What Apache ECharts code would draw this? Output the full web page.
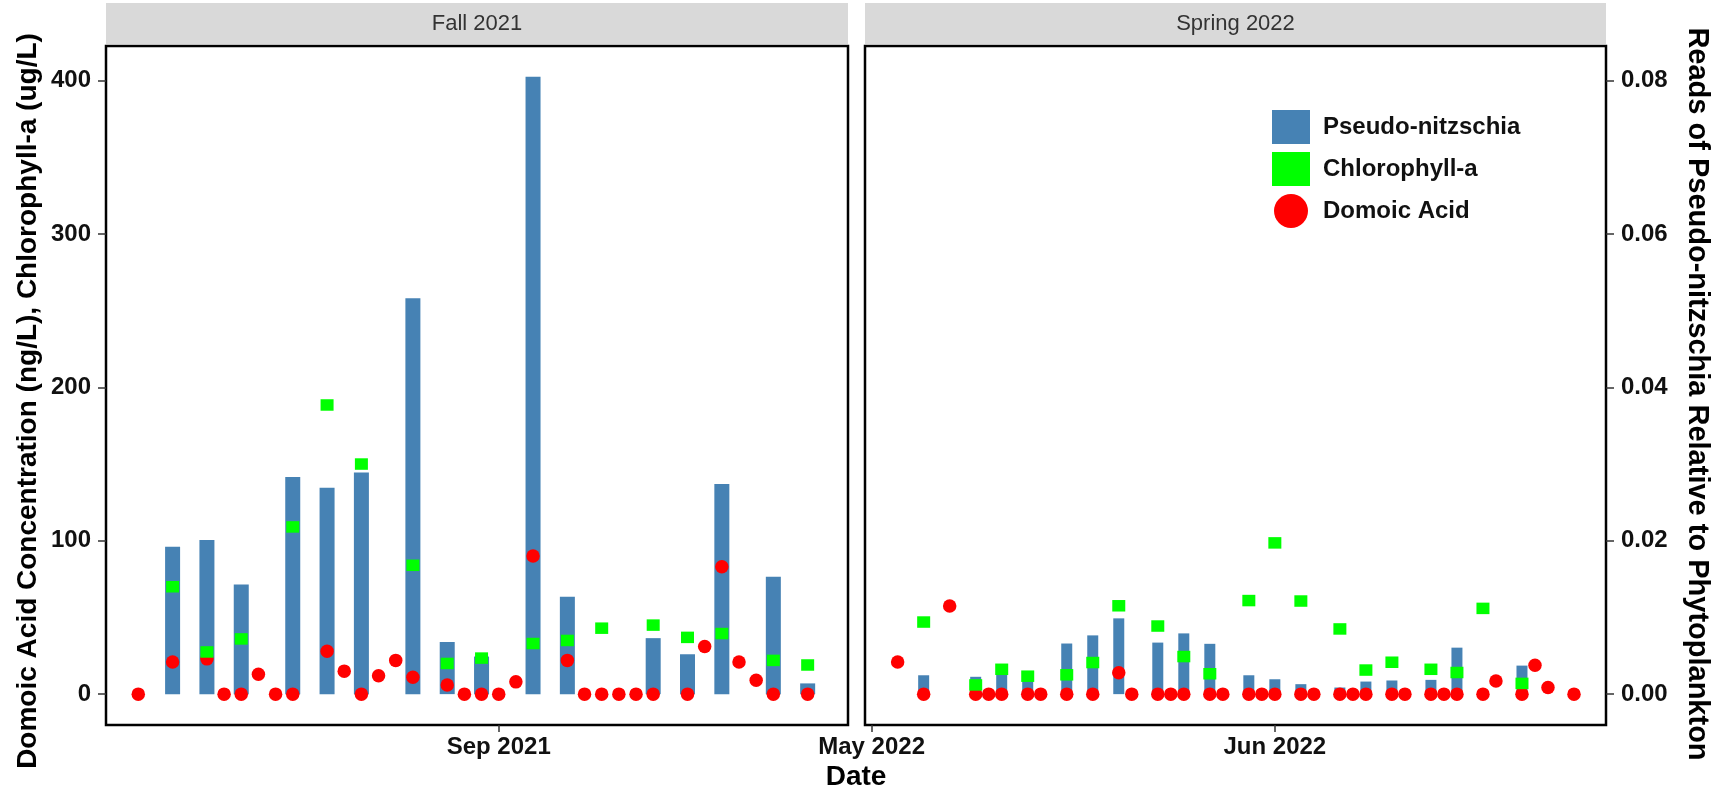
<!DOCTYPE html>
<html>
<head>
<meta charset="utf-8">
<script src="https://cdn.jsdelivr.net/npm/echarts@6/dist/echarts.min.js"></script>
<style>
  html, body { margin: 0; padding: 0; background: #fff; }
  #chart { width: 1722px; height: 792px; }
</style>
</head>
<body>
<div id="chart"></div>
<script>
// Fall 2021 sampling dates
var fallDates = ['2021-08-11','2021-08-13','2021-08-15','2021-08-16','2021-08-17','2021-08-18','2021-08-19','2021-08-20',
  '2021-08-22','2021-08-23','2021-08-24','2021-08-25','2021-08-26','2021-08-27','2021-08-29','2021-08-30','2021-08-31',
  '2021-09-01','2021-09-02','2021-09-03','2021-09-05','2021-09-06','2021-09-07','2021-09-08','2021-09-09','2021-09-10',
  '2021-09-12','2021-09-13','2021-09-14','2021-09-15','2021-09-16','2021-09-17','2021-09-19'];
// domoic acid (ng/L)
var fallDomoic = [0, 21, 23, 0, 0, 13, 0, 0, 28, 15, 0, 12, 22, 11, 6, 0, 0, 0, 8, 90, 22, 0, 0, 0, 0, 0, 0, 31, 83, 21, 9, 0, 0];
// chlorophyll-a (ug/L)
var fallChl = [null, 70, 27.5, null, 36, null, null, 109, 188.5, null, 150, null, null, 84, 20, null, 23.5, null, null,
  33, 35, null, 43, null, null, 45, 37, null, 39.5, null, null, 22, 19];
// reads of pseudo-nitzschia relative to phytoplankton
var fallPseudo = [null, 0.0192, 0.0201, null, 0.0143, null, null, 0.0283, 0.0269, null, 0.0289, null, null, 0.0516, 0.0068,
  null, 0.0049, null, null, 0.0805, 0.0127, null, null, null, null, 0.0073, 0.0052, null, 0.0274, null, null, 0.0153, 0.0014];

// Spring 2022
var springDates = ['2022-05-03','2022-05-05','2022-05-07','2022-05-09','2022-05-10','2022-05-11','2022-05-13','2022-05-14',
  '2022-05-16','2022-05-18','2022-05-20','2022-05-21','2022-05-23','2022-05-24','2022-05-25','2022-05-27','2022-05-28',
  '2022-05-30','2022-05-31','2022-06-01','2022-06-03','2022-06-04','2022-06-06','2022-06-07','2022-06-08','2022-06-10',
  '2022-06-11','2022-06-13','2022-06-14','2022-06-15','2022-06-17','2022-06-18','2022-06-20','2022-06-21','2022-06-22','2022-06-24'];
var springDomoic = [21, 0, 57.5, 0, 0, 0, 0, 0, 0, 0, 14, 0, 0, 0, 0, 0, 0, 0, 0, 0, 0, 0, 0, 0, 0, 0, 0, 0, 0, 0, 0, 8.5, 0, 18.8, 4.3, 0];
var springChl = [null, 47, null, 6, null, 16.2, 11.7, null, 12.6, 20.6, 57.6, null, 44.4, null, 24.5, 13.3, null, 61, null,
  98.6, 60.7, null, 42.5, null, 15.7, 20.8, null, 16.2, null, 14.1, 55.9, null, 7, null, null, null];
var springPseudo = [null, 0.00246, null, 0.00226, null, 0.0028, 0.0018, null, 0.0066, 0.00766, 0.00988, null, 0.00672, null,
  0.00792, 0.00656, null, 0.00246, null, 0.00194, 0.0013, null, 0.00086, null, 0.00164, 0.00178, null, 0.00186, null,
  0.00606, null, null, 0.00372, null, null, null];

var leftTicks = [0, 100, 200, 300, 400];
var rightTicks = [0, 0.02, 0.04, 0.06, 0.08];
var fallLabelDates = ['2021-09-01'];
var springLabelDates = ['2022-05-01', '2022-06-01'];

var RATIO = 5000; // secondary axis scale
var DAY = 86400000;
var FONT = '"Liberation Sans", Arial, sans-serif';
var months = ['Jan','Feb','Mar','Apr','May','Jun','Jul','Aug','Sep','Oct','Nov','Dec'];

function ts(s) {
  var p = s.split('-');
  return Date.UTC(+p[0], +p[1] - 1, +p[2]);
}
function pairs(dates, vals) {
  var out = [];
  dates.forEach(function(d, i) {
    if (vals[i] !== null) out.push([ts(d), vals[i]]);
  });
  return out;
}
function monthLabel(v) {
  var d = new Date(v);
  return months[d.getUTCMonth()] + ' ' + d.getUTCFullYear();
}

var yMin = -20.12, yMax = 422.52;

var chart = echarts.init(document.getElementById('chart'));

// dates are plotted on a numeric axis (ms) so tick positions can be fixed
function xAxisFor(grid, min, max, labels) {
  var vals = labels.map(ts);
  return {
    type: 'value',
    gridIndex: grid,
    min: min,
    max: max,
    axisLine: { show: false, onZero: false },
    splitLine: { show: false },
    axisTick: { show: true, customValues: vals, length: 7, lineStyle: { color: '#333', width: 1.5 } },
    axisLabel: {
      customValues: vals,
      formatter: monthLabel,
      color: '#111',
      fontSize: 24,
      fontWeight: 'bold',
      margin: 10
    }
  };
}

var option = {
  backgroundColor: '#fff',
  textStyle: { fontFamily: FONT },
  animation: false,
  grid: [
    { left: 106, top: 46, width: 742, height: 679, show: true, borderColor: '#000', borderWidth: 2.5, backgroundColor: '#fff' },
    { left: 865, top: 46, width: 741, height: 679, show: true, borderColor: '#000', borderWidth: 2.5, backgroundColor: '#fff' }
  ],
  legend: {
    orient: 'vertical',
    left: 1267,
    top: 105,
    itemWidth: 38,
    itemHeight: 34,
    itemGap: 8,
    textStyle: { fontSize: 24, fontWeight: 'bold', color: '#111', padding: [0, 0, 0, 8] },
    data: [
      { name: 'Pseudo-nitzschia', icon: 'rect' },
      { name: 'Chlorophyll-a', icon: 'rect' },
      { name: 'Domoic Acid', icon: 'circle' }
    ]
  },
  xAxis: [
    xAxisFor(0, ts('2021-08-11') - 1.88 * DAY, ts('2021-09-19') + 2.35 * DAY, fallLabelDates),
    xAxisFor(1, ts('2022-05-03') - 2.51 * DAY, ts('2022-06-24') + 2.46 * DAY, springLabelDates)
  ],
  yAxis: [
    {
      type: 'value', gridIndex: 0, position: 'left', min: yMin, max: yMax,
      axisLine: { show: false, onZero: false },
      splitLine: { show: false },
      axisTick: { show: true, customValues: leftTicks, length: 8, lineStyle: { color: '#333', width: 1.5 } },
      axisLabel: { customValues: leftTicks, fontSize: 24, fontWeight: 'bold', color: '#111', margin: 15 }
    },
    { type: 'value', gridIndex: 0, min: yMin / RATIO, max: yMax / RATIO, show: false },
    { type: 'value', gridIndex: 1, min: yMin, max: yMax, show: false },
    {
      type: 'value', gridIndex: 1, position: 'right', min: yMin / RATIO, max: yMax / RATIO,
      axisLine: { show: false, onZero: false },
      splitLine: { show: false },
      axisTick: { show: true, customValues: rightTicks, length: 8, lineStyle: { color: '#333', width: 1.5 } },
      axisLabel: {
        customValues: rightTicks, fontSize: 24, fontWeight: 'bold', color: '#111', margin: 15,
        formatter: function(v) { return v.toFixed(2); }
      }
    }
  ],
  graphic: [
    // facet strips
    { type: 'rect', left: 106, top: 3, shape: { width: 742, height: 41 }, style: { fill: '#D9D9D9' } },
    { type: 'rect', left: 865, top: 3, shape: { width: 741, height: 41 }, style: { fill: '#D9D9D9' } },
    { type: 'text', x: 477, y: 24, style: { text: 'Fall 2021', fill: '#333', font: '22px ' + FONT, textAlign: 'center', textVerticalAlign: 'middle' } },
    { type: 'text', x: 1235.5, y: 24, style: { text: 'Spring 2022', fill: '#333', font: '22px ' + FONT, textAlign: 'center', textVerticalAlign: 'middle' } },
    // axis titles
    { type: 'text', x: 856, y: 777, style: { text: 'Date', fill: '#000', font: 'bold 28px ' + FONT, textAlign: 'center', textVerticalAlign: 'middle' } },
    {
      type: 'text', x: 28, y: 401, rotation: Math.PI / 2,
      style: { text: 'Domoic Acid Concentration (ng/L), Chlorophyll-a (ug/L)', fill: '#000', font: 'bold 28px ' + FONT, textAlign: 'center', textVerticalAlign: 'middle' }
    },
    {
      type: 'text', x: 1697, y: 394, rotation: -Math.PI / 2,
      style: { text: 'Reads of Pseudo-nitzschia Relative to Phytoplankton', fill: '#000', font: 'bold 29px ' + FONT, textAlign: 'center', textVerticalAlign: 'middle' }
    }
  ],
  series: [
    {
      name: 'Pseudo-nitzschia', type: 'bar', xAxisIndex: 0, yAxisIndex: 1, barWidth: 15,
      itemStyle: { color: '#4682B4' }, data: pairs(fallDates, fallPseudo), z: 2
    },
    {
      name: 'Domoic Acid', type: 'scatter', xAxisIndex: 0, yAxisIndex: 0, symbol: 'circle', symbolSize: 13.5,
      itemStyle: { color: '#FF0000', opacity: 1 }, data: pairs(fallDates, fallDomoic), z: 3
    },
    {
      name: 'Chlorophyll-a', type: 'scatter', xAxisIndex: 0, yAxisIndex: 0, symbol: 'rect', symbolSize: [13, 11.5],
      itemStyle: { color: '#00FF00', opacity: 1 }, data: pairs(fallDates, fallChl), z: 4
    },
    {
      name: 'Pseudo-nitzschia', type: 'bar', xAxisIndex: 1, yAxisIndex: 3, barWidth: 11,
      itemStyle: { color: '#4682B4' }, data: pairs(springDates, springPseudo), z: 2
    },
    {
      name: 'Domoic Acid', type: 'scatter', xAxisIndex: 1, yAxisIndex: 2, symbol: 'circle', symbolSize: 13.5,
      itemStyle: { color: '#FF0000', opacity: 1 }, data: pairs(springDates, springDomoic), z: 3
    },
    {
      name: 'Chlorophyll-a', type: 'scatter', xAxisIndex: 1, yAxisIndex: 2, symbol: 'rect', symbolSize: [13, 11.5],
      itemStyle: { color: '#00FF00', opacity: 1 }, data: pairs(springDates, springChl), z: 4
    }
  ]
};

chart.setOption(option);
</script>
</body>
</html>
